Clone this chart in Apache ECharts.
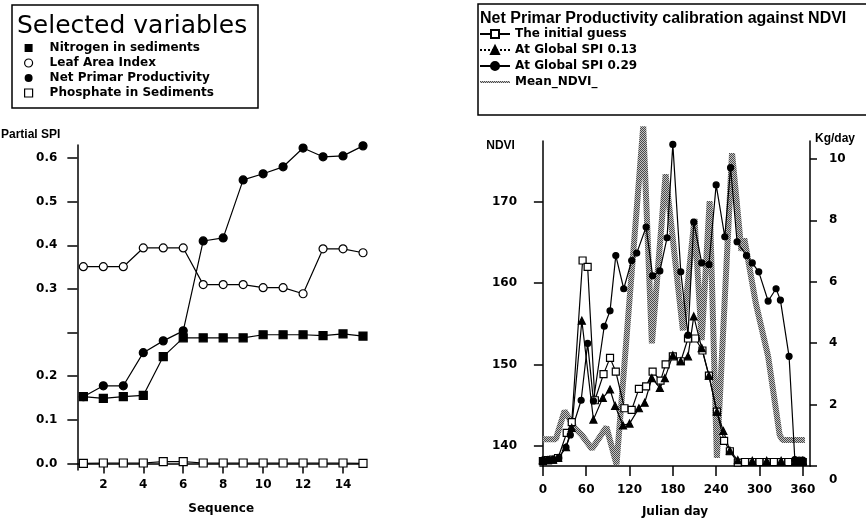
<!DOCTYPE html>
<html>
<head>
<meta charset="utf-8">
<script src="https://cdn.jsdelivr.net/npm/echarts@6/dist/echarts.min.js"></script>
<style>
html, body { margin: 0; padding: 0; background: #fff; }
#main { width: 866px; height: 523px; }
</style>
</head>
<body>
<div id="main"></div>
<script>
// left panel: partial SPI per sequence step
const sequence = [1, 2, 3, 4, 5, 6, 7, 8, 9, 10, 11, 12, 13, 14, 15];
const nitrogen = [0.153, 0.149, 0.153, 0.156, 0.245, 0.288, 0.288, 0.288, 0.288, 0.295, 0.295, 0.295, 0.293, 0.297, 0.292];
const leafArea = [0.451, 0.451, 0.451, 0.494, 0.494, 0.494, 0.410, 0.410, 0.410, 0.403, 0.403, 0.389, 0.492, 0.492, 0.483];
const netPrimar = [0.153, 0.178, 0.178, 0.254, 0.281, 0.304, 0.510, 0.517, 0.650, 0.664, 0.680, 0.723, 0.703, 0.705, 0.728];
const phosphate = [0, 0.001, 0.001, 0.001, 0.004, 0.004, 0.001, 0.001, 0.001, 0.001, 0.001, 0.001, 0.001, 0.001, 0];
const spiTicks = [0, 0.1, 0.2, 0.3, 0.4, 0.5, 0.6, 0.7];
const spiLabels = ['0.0', '0.1', '0.2', '', '0.3', '0.4', '0.5', '0.6'];
const seqTicks = [2, 4, 6, 8, 10, 12, 14];

// right panel: productivity (Kg/day) and mean NDVI against julian day
const guessDays = [0, 7, 14, 21, 33, 40, 55, 62, 72, 84, 93, 101, 113, 123, 133, 143, 152, 163, 170, 180, 191, 201, 211, 221, 230, 241, 251, 259, 270, 280, 290, 300, 310, 320, 330, 340, 350, 360];
const guessKg = [0.16, 0.19, 0.21, 0.26, 1.08, 1.43, 6.69, 6.48, 2.14, 2.99, 3.52, 3.07, 1.88, 1.83, 2.51, 2.59, 3.07, 2.78, 3.31, 3.57, 3.41, 4.15, 4.15, 3.76, 2.94, 1.77, 0.82, 0.48, 0.11, 0.13, 0.13, 0.13, 0.13, 0.13, 0.13, 0.13, 0.13, 0.13];
const spi13Days = [0, 7, 14, 21, 32, 40, 54, 70, 83, 93, 100, 111, 120, 133, 141, 151, 162, 169, 180, 191, 201, 209, 220, 230, 241, 250, 259, 270, 290, 310, 330, 350, 360];
const spi13Kg = [0.19, 0.19, 0.21, 0.26, 0.61, 1.24, 4.73, 1.51, 2.22, 2.49, 1.96, 1.32, 1.38, 1.88, 2.06, 2.86, 2.54, 2.86, 3.60, 3.41, 3.57, 4.87, 3.84, 2.94, 1.77, 1.14, 0.50, 0.19, 0.17, 0.17, 0.17, 0.17, 0.17];
const spi29Days = [0, 7, 14, 22, 32, 38, 53, 62, 70, 85, 93, 101, 112, 123, 130, 143, 152, 162, 172, 180, 191, 201, 209, 220, 230, 240, 252, 260, 269, 282, 290, 299, 312, 323, 329, 341, 349, 355, 360];
const spi29Kg = [0.19, 0.19, 0.21, 0.26, 0.61, 1.01, 2.14, 3.99, 2.12, 4.55, 5.05, 6.85, 5.77, 6.69, 6.93, 7.78, 6.19, 6.35, 7.43, 10.47, 6.32, 4.26, 7.94, 6.61, 6.56, 9.15, 7.46, 9.71, 7.30, 6.85, 6.61, 6.32, 5.37, 5.77, 5.40, 3.57, 0.21, 0.19, 0.19];
const ndviDays = [0, 18, 30, 44, 54, 68, 88, 102, 139, 151, 170, 194, 210, 220, 231, 241, 262, 275, 279, 295, 312, 328, 332, 363];
const ndviMean = [140.8, 140.8, 144.3, 142.2, 141.3, 139.6, 142.3, 137.7, 179.3, 152.6, 173.4, 154.2, 167.9, 153, 170.1, 138.5, 176, 164, 165.5, 157.5, 151, 141.3, 140.7, 140.7];
const dayTicks = [0, 60, 120, 180, 240, 300, 360];
const ndviTicks = [140, 150, 160, 170];
const kgTicks = [0, 2, 4, 6, 8, 10];

const zip = (xs, ys) => xs.map((x, i) => [x, ys[i]]);

const FONT = 'DejaVu Sans';
const NARROW = 'Liberation Sans';
const boldText = { color: '#000', fontFamily: FONT, fontWeight: 'bold', fontSize: 12 };
const narrowBold = { color: '#000', fontFamily: NARROW, fontWeight: 'bold', fontSize: 12 };
const blackLine = { lineStyle: { color: '#000', width: 1.5 } };
const SQUARE = 'path://M0,0L10,0L10,10L0,10Z';

// grey stipple used for the mean NDVI band
const stipple = document.createElement('canvas');
stipple.width = 2;
stipple.height = 2;
const sctx = stipple.getContext('2d');
sctx.fillStyle = '#c4c4c4';
sctx.fillRect(0, 0, 2, 2);
sctx.fillStyle = '#4a4a4a';
sctx.fillRect(0, 0, 1, 1);
sctx.fillRect(1, 1, 1, 1);
const greyPattern = { image: stipple, repeat: 'repeat' };

function modelLine(name, days, kg, symbol, fill, size) {
  return {
    name: name,
    type: 'line',
    xAxisIndex: 1,
    yAxisIndex: 2,
    data: zip(days, kg),
    symbol: symbol,
    symbolSize: size,
    showAllSymbol: true,
    lineStyle: { color: '#000', width: 1.2 },
    itemStyle: { color: fill, borderColor: '#000', borderWidth: 1.2 },
    z: 3
  };
}

function seqLine(name, values, symbol, fill, size) {
  return {
    name: name,
    type: 'line',
    xAxisIndex: 0,
    yAxisIndex: 0,
    data: zip(sequence, values),
    symbol: symbol,
    symbolSize: size,
    lineStyle: { color: '#000', width: 1.2 },
    itemStyle: { color: fill, borderColor: '#000', borderWidth: 1.2 },
    z: 3
  };
}

const chart = echarts.init(document.getElementById('main'));

const option = {
  animation: false,
  backgroundColor: '#fff',
  title: [
    {
      text: 'Selected variables',
      left: 12, top: 9,
      textStyle: { color: '#000', fontFamily: FONT, fontWeight: 'normal', fontSize: 25 }
    },
    {
      text: 'Net Primar Productivity calibration against NDVI',
      left: 475, top: 6,
      textStyle: { color: '#000', fontFamily: NARROW, fontWeight: 'bold', fontSize: 16 }
    }
  ],
  graphic: [
    { type: 'rect', silent: true, z: -1, shape: { x: 12, y: 5, width: 246, height: 103 },
      style: { fill: 'none', stroke: '#000', lineWidth: 1.5 } },
    { type: 'rect', silent: true, z: -1, shape: { x: 478, y: 4, width: 400, height: 111 },
      style: { fill: 'none', stroke: '#000', lineWidth: 1.5 } }
  ],
  legend: [
    {
      orient: 'vertical',
      left: 19, top: 37,
      itemWidth: 32, itemHeight: 8, itemGap: 3,
      symbolKeepAspect: true,
      textStyle: boldText,
      data: [
        { name: 'Nitrogen in sediments', icon: SQUARE, itemStyle: { color: '#000', borderWidth: 0 } },
        { name: 'Leaf Area Index', icon: 'circle', itemStyle: { color: '#fff', borderColor: '#000', borderWidth: 1.2 } },
        { name: 'Net Primar Productivity', icon: 'circle', itemStyle: { color: '#000', borderWidth: 0 } },
        { name: 'Phosphate in Sediments', icon: SQUARE, itemStyle: { color: '#fff', borderColor: '#000', borderWidth: 1.2 } }
      ]
    },
    {
      orient: 'vertical',
      left: 474, top: 23,
      itemWidth: 30, itemHeight: 10, itemGap: 4,
      textStyle: boldText,
      data: [
        { name: 'The initial guess' },
        { name: 'At Global SPI 0.13', lineStyle: { type: 'dotted' } },
        { name: 'At Global SPI 0.29' },
        { name: 'Mean_NDVI_', itemStyle: { opacity: 0 } }
      ]
    }
  ],
  grid: [
    { left: 77, top: 145, width: 288, height: 325 },
    { left: 540, top: 141, width: 270, height: 327 }
  ],
  xAxis: [
    {
      gridIndex: 0,
      type: 'value',
      min: 0.7, max: 15.1,
      axisLine: blackLine,
      axisTick: { show: true, length: 10, customValues: seqTicks, lineStyle: { color: '#000', width: 1.5 } },
      axisLabel: Object.assign({ customValues: seqTicks, margin: 9 }, boldText),
      splitLine: { show: false },
      name: 'Sequence',
      nameLocation: 'middle',
      nameGap: 33,
      nameTextStyle: boldText
    },
    {
      gridIndex: 1,
      type: 'value',
      min: -4, max: 370,
      axisLine: blackLine,
      axisTick: { show: true, length: 10, customValues: dayTicks, lineStyle: { color: '#000', width: 1.5 } },
      axisLabel: Object.assign({ customValues: dayTicks, margin: 18 }, boldText),
      splitLine: { show: false },
      name: 'Julian day',
      nameLocation: 'middle',
      nameGap: 40,
      nameTextStyle: boldText
    }
  ],
  yAxis: [
    {
      gridIndex: 0,
      type: 'value',
      min: -0.015, max: 0.73,
      axisLine: Object.assign({ show: true }, blackLine),
      axisTick: { show: true, length: 10, customValues: spiTicks, lineStyle: { color: '#000', width: 1.5 } },
      axisLabel: Object.assign({
        customValues: spiTicks,
        margin: 20,
        formatter: v => spiLabels[Math.round(v * 10)]
      }, boldText),
      splitLine: { show: false },
      name: 'Partial SPI',
      nameLocation: 'end',
      nameGap: 4,
      nameTextStyle: Object.assign({ align: 'right', padding: [0, 17, 0, 0] }, narrowBold)
    },
    {
      gridIndex: 1,
      type: 'value',
      position: 'left',
      min: 137.5, max: 177.5,
      axisLine: Object.assign({ show: true }, blackLine),
      axisTick: { show: true, length: 9, customValues: ndviTicks, lineStyle: { color: '#000', width: 1.5 } },
      axisLabel: Object.assign({ customValues: ndviTicks, margin: 23 }, boldText),
      splitLine: { show: false },
      name: 'NDVI',
      nameLocation: 'end',
      nameGap: -11,
      nameTextStyle: Object.assign({ align: 'right', padding: [0, 28, 0, 0] }, narrowBold)
    },
    {
      gridIndex: 1,
      type: 'value',
      position: 'right',
      min: 0, max: 10.58,
      axisLine: Object.assign({ show: true }, blackLine),
      axisTick: { show: true, length: 7, customValues: kgTicks, lineStyle: { color: '#000', width: 1.5 } },
      axisLabel: Object.assign({
        customValues: kgTicks,
        margin: 19,
        lineHeight: 28,
        formatter: v => (v === 0 ? '\n0' : String(v))
      }, boldText),
      splitLine: { show: false },
      name: 'Kg/day',
      nameLocation: 'end',
      nameGap: -7,
      nameTextStyle: Object.assign({ align: 'left', padding: [0, 0, 0, 5] }, narrowBold)
    }
  ],
  series: [
    seqLine('Nitrogen in sediments', nitrogen, 'rect', '#000', 8),
    seqLine('Leaf Area Index', leafArea, 'circle', '#fff', 8),
    seqLine('Net Primar Productivity', netPrimar, 'circle', '#000', 8),
    seqLine('Phosphate in Sediments', phosphate, 'rect', '#fff', 8),
    {
      name: 'Mean_NDVI_',
      type: 'line',
      xAxisIndex: 1,
      yAxisIndex: 1,
      data: zip(ndviDays, ndviMean),
      symbol: 'none',
      clip: false,
      lineStyle: { color: greyPattern, width: 6 },
      itemStyle: { color: '#999' },
      z: 1
    },
    modelLine('The initial guess', guessDays, guessKg, 'rect', '#fff', 7),
    modelLine('At Global SPI 0.13', spi13Days, spi13Kg, 'triangle', '#000', 7),
    modelLine('At Global SPI 0.29', spi29Days, spi29Kg, 'circle', '#000', 6)
  ]
};

chart.setOption(option, true);
</script>
</body>
</html>
